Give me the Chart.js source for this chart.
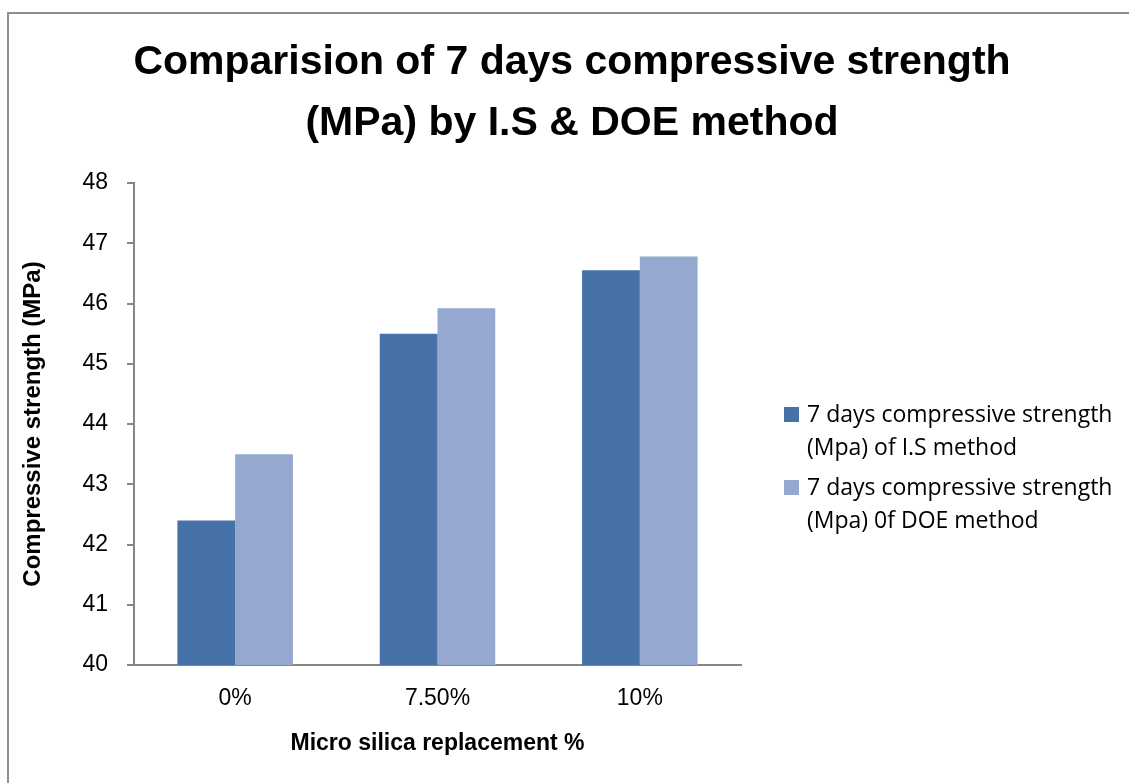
<!DOCTYPE html>
<html>
<head>
<meta charset="utf-8">
<title>Comparision of 7 days compressive strength</title>
<script src="https://cdn.jsdelivr.net/npm/chart.js@4.4.0/dist/chart.umd.min.js"></script>
<style>
  html, body { margin: 0; padding: 0; background: #fff; }
  #wrap { position: relative; width: 1129px; height: 783px; overflow: hidden; }
  #frame { position: absolute; left: 7px; top: 12px; width: 1200px; height: 900px; border: 2px solid #8e8e8e; }
  #title { position: absolute; left: 0; width: 1144px; top: 30px; text-align: center;
           font: bold 41px "Liberation Sans", Arial, sans-serif; line-height: 61px; color: #000; }
  #legend { position: absolute; left: 784px; top: 397px; font: 23px "Open Sans", sans-serif; color: #000; }
  .item { position: relative; padding-left: 23px; line-height: 33px; margin-bottom: 7px; white-space: nowrap; }
  .swatch { position: absolute; left: 0; top: 10px; width: 15px; height: 15px; }
  canvas { position: absolute; left: 0; top: 0; }
</style>
</head>
<body>
<div id="wrap">
  <div id="frame"></div>
  <canvas id="chart" width="1129" height="783"></canvas>
  <div id="title">Comparision of 7 days compressive strength<br>(MPa) by I.S &amp; DOE method</div>
  <div id="legend"></div>
</div>
<script>
// data
const categories = ['0%', '7.50%', '10%'];
const isMethod = [42.4, 45.5, 46.55];
const doeMethod = [43.5, 45.92, 46.78];
const seriesNames = [
  ['7 days compressive strength', '(Mpa) of I.S method'],
  ['7 days compressive strength', '(Mpa) 0f DOE method']
];
const seriesColors = ['#4672a7', '#95a9d0'];
const yMin = 40, yMax = 48, yStep = 1;

const sans = '"Liberation Sans", Arial, sans-serif';

// Legend (html, right side)
function renderLegend() {
  const box = document.getElementById('legend');
  box.innerHTML = seriesNames.map((lines, i) => `
    <div class="item"><span class="swatch" style="background:${seriesColors[i]}"></span>${lines.join('<br>')}</div>
  `).join('');
}
renderLegend();

const ctx = document.getElementById('chart').getContext('2d');
new Chart(ctx, {
  type: 'bar',
  data: {
    labels: categories,
    datasets: [
      { label: seriesNames[0].join(' '), data: isMethod, backgroundColor: seriesColors[0] },
      { label: seriesNames[1].join(' '), data: doeMethod, backgroundColor: seriesColors[1] }
    ]
  },
  options: {
    responsive: false,
    animation: false,
    layout: { padding: { left: 0, top: 183, right: 388, bottom: 0 } },
    datasets: { bar: { categoryPercentage: 0.571, barPercentage: 1.0 } },
    plugins: {
      legend: { display: false },
      title: { display: false },
      tooltip: { enabled: false }
    },
    scales: {
      x: {
        grid: { display: false, drawTicks: false },
        border: { display: true, color: '#868686', width: 2 },
        ticks: { color: '#000', font: { family: sans, size: 23 }, padding: 20 },
        title: { display: true, text: 'Micro silica replacement %', color: '#000',
                 font: { family: sans, size: 23, weight: 'bold' }, padding: { top: 0, bottom: 26 } },
        afterFit(scale) { scale.height = 118; }
      },
      y: {
        min: yMin,
        max: yMax,
        ticks: { stepSize: yStep, color: '#000', font: { family: sans, size: 23 }, padding: 19 },
        grid: { drawOnChartArea: false, drawTicks: true, tickLength: 7, color: '#868686', lineWidth: 2 },
        border: { display: true, color: '#868686', width: 2 },
        title: { display: true, text: 'Compressive strength (MPa)', color: '#000',
                 font: { family: sans, size: 24, weight: 'bold' }, padding: { top: 19, bottom: 0 } },
        afterFit(scale) { scale.width = 134; }
      }
    }
  }
});
</script>
</body>
</html>
